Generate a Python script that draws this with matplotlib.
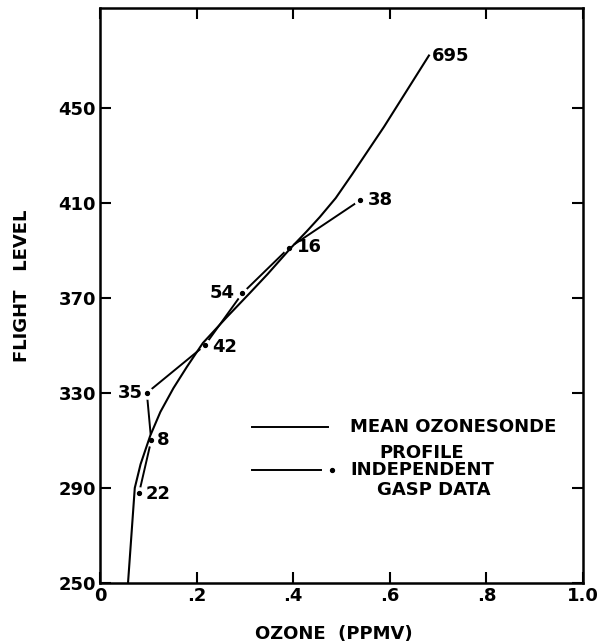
import matplotlib
matplotlib.use("Agg")
import matplotlib.pyplot as plt

# mean ozonesonde profile (ozone ppmv, flight level)
mean_ozone = [0.058, 0.072, 0.084, 0.104, 0.125, 0.152, 0.18, 0.213, 0.263, 0.31,
              0.347, 0.395, 0.428, 0.455, 0.488, 0.522, 0.555, 0.588, 0.619, 0.65, 0.681]
mean_fl = [250, 290, 300, 312, 322, 332, 341, 351, 362, 372,
           380, 391, 398, 404, 412, 422, 432, 442, 452, 462, 472]
mean_n = "695"

# independent GASP data with number of observations
gasp_ozone = [0.081, 0.106, 0.097, 0.217, 0.295, 0.391, 0.538]
gasp_fl = [288, 310, 330, 350, 372, 391, 411]
gasp_n = ["22", "8", "35", "42", "54", "16", "38"]

xticks = [0, 0.2, 0.4, 0.6, 0.8, 1.0]
xticklabels = ["0", ".2", ".4", ".6", ".8", "1.0"]
yticks = [250, 290, 330, 370, 410, 450]

plt.rcParams["font.family"] = "DejaVu Sans"
plt.rcParams["font.weight"] = "bold"

fig = plt.figure(figsize=(5.98, 6.42), dpi=100)
ax = fig.add_axes([100 / 598, 59 / 642, 483 / 598, 575 / 642])

# gasp line, with a small gap round each dot
ax.plot(gasp_ozone, gasp_fl, color="black", lw=1.4, zorder=2)
ax.plot(gasp_ozone, gasp_fl, "o", ms=8, color="white", mec="white", zorder=3)
ax.plot(gasp_ozone, gasp_fl, "o", ms=2.8, color="black", zorder=4)

ax.plot(mean_ozone, mean_fl, color="black", lw=1.5, zorder=5)

lab_kw = dict(textcoords="offset points", fontsize=13, fontweight="bold", va="center")
ax.annotate(mean_n, (mean_ozone[-1], mean_fl[-1]), xytext=(2, 0), ha="left", **lab_kw)
offsets = [(5, -1), (4, 0), (-3, 0), (5, -1), (-6, 0), (6, 1), (6, 0)]
for x, y, n, off in zip(gasp_ozone, gasp_fl, gasp_n, offsets):
    ax.annotate(n, (x, y), xytext=off, ha="left" if off[0] > 0 else "right", **lab_kw)

# legend drawn by hand
tr = ax.transAxes
ax.plot([0.315, 0.472], [0.271, 0.271], color="black", lw=1.4, transform=tr)
ax.plot([0.315, 0.458], [0.197, 0.197], color="black", lw=1.4, transform=tr)
ax.plot([0.481], [0.197], "o", ms=2.8, color="black", transform=tr)
leg_kw = dict(transform=tr, fontsize=13, fontweight="bold", va="center", ha="left")
ax.text(0.518, 0.271, "MEAN OZONESONDE", **leg_kw)
ax.text(0.578, 0.226, "PROFILE", **leg_kw)
ax.text(0.518, 0.197, "INDEPENDENT", **leg_kw)
ax.text(0.573, 0.162, "GASP DATA", **leg_kw)

ax.set_xlim(0, 1.0)
ax.set_ylim(250, 492)
ax.set_xticks(xticks)
ax.set_xticklabels(xticklabels)
ax.set_yticks(yticks)
ax.tick_params(direction="in", length=8, width=1.5, top=True, right=True,
               labelsize=13, pad=3)
for s in ax.spines.values():
    s.set_linewidth(1.8)

ax.set_xlabel("OZONE  (PPMV)", fontsize=13, fontweight="bold")
ax.set_ylabel("FLIGHT   LEVEL", fontsize=13, fontweight="bold")
ax.xaxis.set_label_coords(0.485, -0.073)
ax.yaxis.set_label_coords(-0.142, 0.517)

fig.savefig("out.png", dpi=100)
